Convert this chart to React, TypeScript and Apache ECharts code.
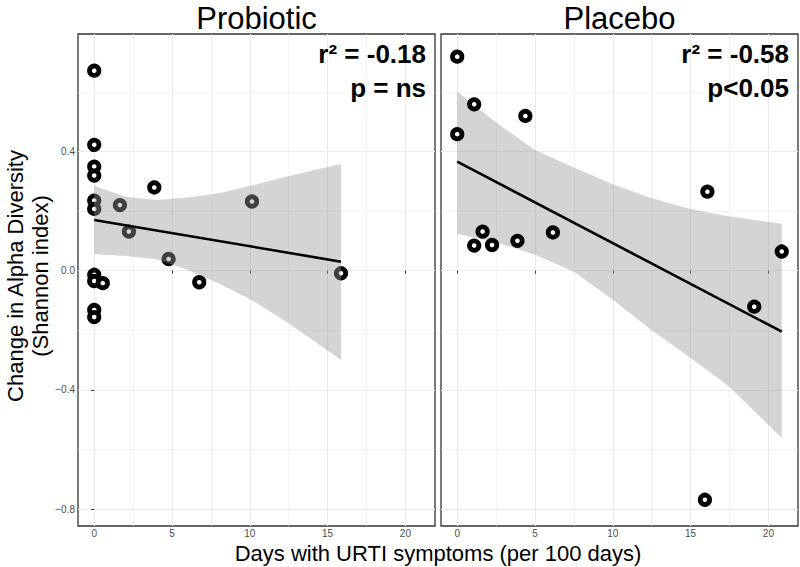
import React, { useEffect, useRef } from "react";
import * as echarts from "echarts";

const FONT = "'Liberation Sans', Arial, Helvetica, sans-serif";

const xMajor = [0, 5, 10, 15, 20];
const xMinor = [2.5, 7.5, 12.5, 17.5];
const yMajor = [-0.8, -0.4, 0, 0.4];
const yMinor = [-0.6, -0.2, 0.2, 0.6];
const xRange = [-1.043, 21.903];
const yRange = [-0.857, 0.794];

const panelTitles = ["Probiotic", "Placebo"];
const statR = ["r\u00B2 = -0.18", "r\u00B2 = -0.58"];
const statP = ["p = ns", "p<0.05"];
const xTitle = "Days with URTI symptoms (per 100 days)";
const yTitle = "Change in Alpha Diversity\n(Shannon index)";

// Probiotic panel points
const probioticX = [0, 0, 0, 0, 0, 0, 0, 0, 0.55, 0, 0, 1.65, 2.23, 3.86, 4.78, 6.75, 10.14, 15.86];
const probioticY = [0.671, 0.422, 0.349, 0.319, 0.235, 0.207, -0.014, -0.035, -0.042, -0.132, -0.156, 0.22, 0.131, 0.279, 0.039, -0.039, 0.232, -0.009];

// Placebo panel points
const placeboX = [0, 1.09, 0, 4.38, 1.63, 1.09, 2.24, 3.87, 6.15, 16.08, 20.86, 19.09, 15.92];
const placeboY = [0.718, 0.558, 0.458, 0.519, 0.131, 0.084, 0.086, 0.1, 0.128, 0.265, 0.064, -0.121, -0.769];

// Fitted lines
const probioticFitX = [0, 15.86];
const probioticFitY = [0.17, 0.03];
const placeboFitX = [0, 20.86];
const placeboFitY = [0.366, -0.205];

// Confidence bands
const probioticBandX = [0, 2, 4, 6, 8, 10, 12, 14, 15.86];
const probioticBandUpper = [0.285, 0.248, 0.237, 0.245, 0.26, 0.284, 0.311, 0.336, 0.358];
const probioticBandLower = [0.056, 0.049, 0.038, 0.003, -0.043, -0.095, -0.16, -0.231, -0.3];
const placeboBandX = [0, 2.5, 5, 7.5, 10, 12.5, 15, 17.5, 20.86];
const placeboBandUpper = [0.601, 0.497, 0.405, 0.346, 0.29, 0.243, 0.207, 0.182, 0.157];
const placeboBandLower = [0.123, 0.095, 0.053, -0.004, -0.098, -0.2, -0.293, -0.39, -0.562];

const fmtY = (v: number) => v.toFixed(1).replace("-", "\u2212");

function mkX(gi: number, minor: boolean) {
  return {
    type: "value",
    gridIndex: gi,
    min: xRange[0],
    max: xRange[1],
    position: minor ? "top" : "bottom",
    axisLine: { show: false },
    axisTick: minor
      ? { show: false, customValues: xMinor }
      : { show: true, length: 3, lineStyle: { color: "#333", width: 1 }, customValues: xMajor },
    axisLabel: minor
      ? { show: false }
      : { show: true, customValues: xMajor, color: "#4D4D4D", fontSize: 10, margin: 2, fontFamily: FONT },
    splitLine: { show: true, lineStyle: { color: "#EBEBEB", width: minor ? 0.6 : 1.1 } },
  };
}

function mkY(gi: number, minor: boolean) {
  const showLab = gi === 0 && !minor;
  return {
    type: "value",
    gridIndex: gi,
    min: yRange[0],
    max: yRange[1],
    position: minor ? "right" : "left",
    axisLine: { show: false },
    axisTick: minor
      ? { show: false, customValues: yMinor }
      : { show: showLab, length: 3, lineStyle: { color: "#333", width: 1 }, customValues: yMajor },
    axisLabel: showLab
      ? { show: true, customValues: yMajor, color: "#4D4D4D", fontSize: 10, margin: 3, fontFamily: FONT, formatter: fmtY }
      : { show: false },
    splitLine: { show: true, lineStyle: { color: "#EBEBEB", width: minor ? 0.6 : 1.1 } },
  };
}

function bandSeries(gi: number, bx: number[], up: number[], lo: number[], z: number) {
  return {
    type: "custom",
    xAxisIndex: gi * 2,
    yAxisIndex: gi * 2,
    z,
    silent: true,
    data: [[bx[0], up[0]]],
    renderItem: (_p: any, api: any) => {
      const pts: number[][] = [];
      bx.forEach((x, i) => pts.push(api.coord([x, up[i]])));
      for (let i = bx.length - 1; i >= 0; i--) pts.push(api.coord([bx[i], lo[i]]));
      return { type: "polygon", shape: { points: pts }, style: { fill: "rgba(153,153,153,0.42)" } };
    },
  };
}

function scatterSeries(gi: number, xs: number[], ys: number[], z: number) {
  return {
    type: "scatter",
    xAxisIndex: gi * 2,
    yAxisIndex: gi * 2,
    z,
    symbol: "circle",
    symbolSize: 9.4,
    itemStyle: { color: "#ffffff", borderColor: "#000000", borderWidth: 4.8, opacity: 1 },
    data: xs.map((x, i) => [x, ys[i]]),
  };
}

function lineSeries(gi: number, xs: number[], ys: number[], z: number) {
  return {
    type: "line",
    xAxisIndex: gi * 2,
    yAxisIndex: gi * 2,
    z,
    symbol: "none",
    lineStyle: { color: "#000", width: 2.6 },
    data: xs.map((x, i) => [x, ys[i]]),
  };
}

const grids = [
  { left: 78, top: 34, width: 357, height: 492 },
  { left: 441, top: 34, width: 357, height: 492 },
];

export default function App() {
  const ref = useRef<HTMLDivElement>(null);
  useEffect(() => {
    if (!ref.current) return;
    const chart = echarts.init(ref.current, undefined, { renderer: "svg" });
    const textBase = { fontFamily: FONT, fill: "#000" };
    const graphic: any[] = [];
    panelTitles.forEach((t, i) => {
      const g = grids[i];
      graphic.push({
        type: "text",
        z: 100,
        x: g.left + g.width / 2,
        y: 18,
        style: { ...textBase, text: t, fontSize: 31, align: "center", verticalAlign: "middle" },
      });
      graphic.push({
        type: "text",
        z: 100,
        x: g.left + g.width - 9,
        y: 54,
        style: { ...textBase, text: statR[i], fontSize: 26, fontWeight: "bold", align: "right", verticalAlign: "middle" },
      });
      graphic.push({
        type: "text",
        z: 100,
        x: g.left + g.width - 9,
        y: 88,
        style: { ...textBase, text: statP[i], fontSize: 26, fontWeight: "bold", align: "right", verticalAlign: "middle" },
      });
    });
    graphic.push({
      type: "text",
      z: 100,
      x: 438,
      y: 553,
      style: { ...textBase, text: xTitle, fontSize: 22, align: "center", verticalAlign: "middle" },
    });
    graphic.push({
      type: "text",
      z: 100,
      x: 28,
      y: 276,
      rotation: Math.PI / 2,
      style: { ...textBase, text: yTitle, fontSize: 22, lineHeight: 25, align: "center", verticalAlign: "middle" },
    });

    chart.setOption({
      animation: false,
      backgroundColor: "#ffffff",
      grid: grids.map((g) => ({ ...g, show: true, borderColor: "#333333", borderWidth: 1.3, backgroundColor: "#ffffff" })),
      xAxis: [mkX(0, false), mkX(0, true), mkX(1, false), mkX(1, true)],
      yAxis: [mkY(0, false), mkY(0, true), mkY(1, false), mkY(1, true)],
      series: [
        scatterSeries(0, probioticX, probioticY, 2),
        bandSeries(0, probioticBandX, probioticBandUpper, probioticBandLower, 3),
        lineSeries(0, probioticFitX, probioticFitY, 4),
        bandSeries(1, placeboBandX, placeboBandUpper, placeboBandLower, 1),
        lineSeries(1, placeboFitX, placeboFitY, 2),
        scatterSeries(1, placeboX, placeboY, 3),
      ],
      graphic,
    });
    return () => chart.dispose();
  }, []);
  return <div ref={ref} style={{ position: "absolute", left: 0, top: 0, width: 800, height: 567 }} />;
}
